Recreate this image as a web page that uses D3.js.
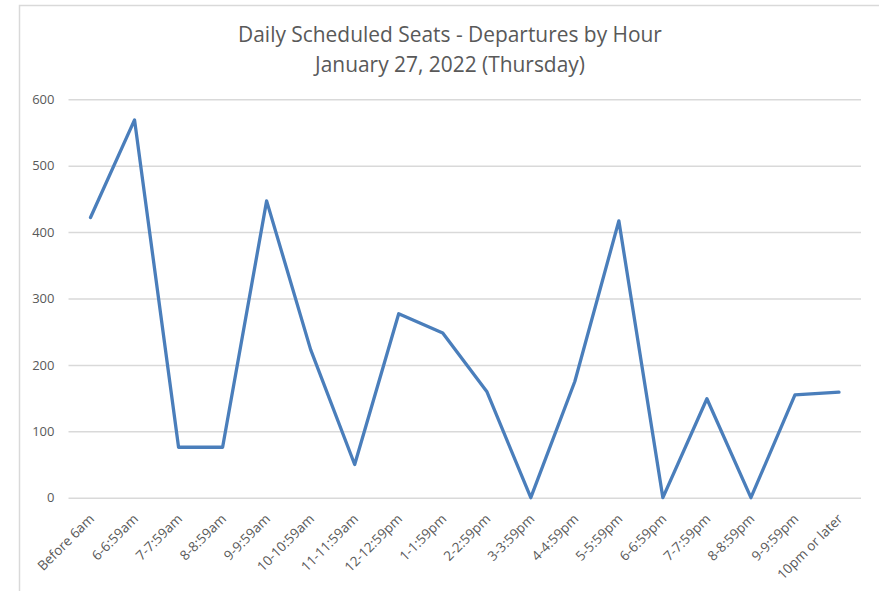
<!DOCTYPE html>
<html><head><meta charset="utf-8">
<script src="https://cdn.jsdelivr.net/npm/d3@7"></script>
<style>body{margin:0;background:#fff}svg{display:block}</style>
</head><body>
<svg id="c" width="879" height="591"></svg>
<script>
const titleLines = ["Daily Scheduled Seats - Departures by Hour", "January 27, 2022 (Thursday)"];
const categories = ["Before 6am","6-6:59am","7-7:59am","8-8:59am","9-9:59am","10-10:59am","11-11:59am","12-12:59pm","1-1:59pm","2-2:59pm","3-3:59pm","4-4:59pm","5-5:59pm","6-6:59pm","7-7:59pm","8-8:59pm","9-9:59pm","10pm or later"];
const seats = [422, 569, 76, 76, 447, 223, 50, 277, 248, 160, 0, 175, 417, 0, 149, 0, 155, 159];
const yTicks = [0, 100, 200, 300, 400, 500, 600];

const svg = d3.select("#c");
const font = "'Open Sans', 'Noto Sans', sans-serif";
const textCol = "#595959";

// chart frame
svg.append("path").attr("d", "M19.5,600 V5.5 H890").attr("fill","none").attr("stroke","#d9d9d9").attr("stroke-width",1.5);

const x = d3.scalePoint().domain(categories).range([68.5, 861]).padding(0.5);
const y = d3.scaleLinear().domain([0, 600]).range([497.7, 99.3]);

// gridlines
const yAxis = d3.axisLeft(y).tickValues(yTicks).tickSize(-(861 - 68.5)).tickPadding(14);
const gy = svg.append("g").attr("transform", "translate(68.5,0)").call(yAxis);
gy.select(".domain").remove();
gy.selectAll(".tick line").attr("stroke", "#d9d9d9").attr("stroke-width", 1.5);
gy.selectAll(".tick text").attr("fill", textCol).style("font-family", font).style("font-size", "13px");

// x labels
const xAxis = d3.axisBottom(x).tickSize(0).tickPadding(0);
const gx = svg.append("g").attr("transform", "translate(0,497.7)").call(xAxis);
gx.select(".domain").remove();
gx.selectAll(".tick text")
  .attr("fill", textCol).style("font-family", font).style("font-size", "13.5px")
  .attr("text-anchor", "end").attr("dy", 0).attr("y", 0)
  .attr("transform", "translate(4,22) rotate(-45)");

// line
const line = d3.line().x((d, i) => x(categories[i])).y(d => y(d));
svg.append("path").datum(seats).attr("d", line)
  .attr("fill", "none").attr("stroke", "#4a7ebb").attr("stroke-width", 3.3)
  .attr("stroke-linejoin", "round").attr("stroke-linecap", "round");

// title
const t = svg.append("text").attr("text-anchor", "middle").attr("fill", textCol)
  .style("font-family", font).style("font-size", "19px");
t.selectAll("tspan").data(titleLines).join("tspan")
  .attr("x", 450).attr("y", (d, i) => i === 0 ? 42 : 72).text(d => d);
// fit title width to reference
const w0 = t.select("tspan").node().getComputedTextLength();
t.style("font-size", (19 * 424 / w0) + "px");
</script>
</body></html>
